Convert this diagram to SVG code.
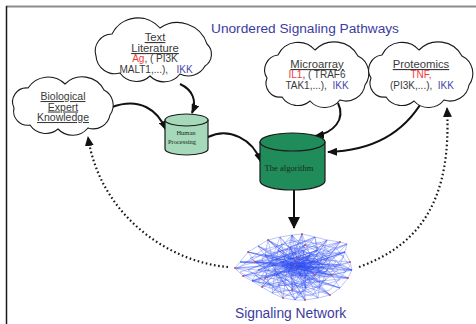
<svg xmlns="http://www.w3.org/2000/svg" width="476" height="324" viewBox="0 0 476 324">
  <defs>
    <style>
      .cloud { fill: #ffffff; stroke: #1a1a1a; stroke-width: 1.1; }
      .head { font-family: "Liberation Sans", Arial, sans-serif; font-size: 11.3px; fill: #3a3a3a; text-anchor: middle; text-decoration: underline; }
      .item { font-family: "Liberation Sans", Arial, sans-serif; font-size: 10px; fill: #3a3a3a; text-anchor: middle; }
      .red { fill: #f03a3a; }
      .blue { fill: #4646a8; }
      .title { font-family: "Liberation Sans", Arial, sans-serif; font-size: 13.7px; fill: #3c3ca0; }
      .cyl-label { font-family: "Liberation Serif", "Times New Roman", serif; fill: #1c2a22; text-anchor: middle; }
      .cyl { stroke: #1a1a1a; stroke-width: 1.2; }
      .flow { fill: none; stroke: #111111; stroke-width: 2; marker-end: url(#arrow); }
      .feedback { fill: none; stroke: #1a1a1a; stroke-width: 2.2; stroke-dasharray: 1.6 2.6; marker-end: url(#arrowSmall); }
      .net { fill: none; stroke: #2f4ef0; stroke-width: 0.6; stroke-opacity: 0.55; stroke-linejoin: round; }
      .node { fill: #e04848; }
    </style>
    <marker id="arrow" viewBox="0 0 10 8" refX="9" refY="4" markerWidth="10" markerHeight="8" markerUnits="userSpaceOnUse" orient="auto">
      <path d="M0,0 L10,4 L0,8 z" fill="#111111"/>
    </marker>
    <marker id="arrowBig" viewBox="0 0 12 12" refX="11" refY="6" markerWidth="12" markerHeight="12" markerUnits="userSpaceOnUse" orient="auto">
      <path d="M0,0 L12,6 L0,12 z" fill="#111111"/>
    </marker>
    <marker id="arrowSmall" viewBox="0 0 10 9" refX="9" refY="4.5" markerWidth="10" markerHeight="9" markerUnits="userSpaceOnUse" orient="auto">
      <path d="M0,0 L10,4.5 L0,9 z" fill="#111111"/>
    </marker>
  </defs>

  <rect x="0" y="0" width="476" height="324" fill="#ffffff"/>

  <!-- frame -->
  <line x1="6" y1="6.5" x2="476" y2="6.5" stroke="#8c8c8c" stroke-width="2"/>
  <line x1="6.5" y1="6" x2="6.5" y2="324" stroke="#1a1a1a" stroke-width="1.5"/>

  <text class="title" x="211" y="33">Unordered Signaling Pathways</text>

  <!-- connectors -->
  <g id="connectors">
    <path class="flow" d="M180,84 C193,90 197,101 192,113"/>
    <path class="flow" d="M112,107 C140,97 158,110 166,130"/>
    <path class="flow" d="M208,137 C229,127 253,139 261,162"/>
    <path class="flow" d="M338,103 C346,120 333,133 315,136"/>
    <path class="flow" d="M423,100 C400,140 362,151 328,152"/>
    <path d="M294,190 L294,228" fill="none" stroke="#111111" stroke-width="2" marker-end="url(#arrowBig)"/>
    <path class="feedback" d="M228,267 C168,262 100,215 88,137"/>
    <path class="feedback" d="M359,267 C420,245 452,200 447,108"/>
  </g>

  <!-- source clouds -->
  <g id="text-literature">
    <path class="cloud" d="M96,56 A17,17 0 0 1 112,34 A29,29 0 0 1 160,28 A31,31 0 0 1 207,44 A14,14 0 0 1 205,66 A19,19 0 0 1 180,74 A20,20 0 0 1 150,76 A20,20 0 0 1 120,73 A19,19 0 0 1 96,56 z"/>
    <text class="head" x="155" y="41">Text</text>
    <text class="head" x="155" y="52">Literature</text>
    <text class="item" x="155" y="62" xml:space="preserve"><tspan class="red">Ag</tspan>, ( PI3K</text>
    <text class="item" x="156" y="73" xml:space="preserve">MALT1,...),   <tspan class="blue">IKK</tspan></text>
  </g>

  <g id="expert-knowledge">
    <path class="cloud" d="M14,108 A14,14 0 0 1 28,88 A24,24 0 0 1 65,84 A24.5,24.5 0 0 1 104,90 A17,17 0 0 1 110,115 A17,17 0 0 1 88,128 A20,20 0 0 1 58,129 A19,19 0 0 1 30,125 A14,14 0 0 1 14,108 z"/>
    <text class="head" x="63" y="100" style="font-size:10.5px">Biological</text>
    <text class="head" x="63" y="110.5" style="font-size:10.5px">Expert</text>
    <text class="head" x="63" y="121" style="font-size:10.5px">Knowledge</text>
  </g>

  <g id="microarray">
    <path class="cloud" d="M267,78 A15,15 0 0 1 278,55 A22.4,22.4 0 0 1 315,50 A27,27 0 0 1 358,56 A19.4,19.4 0 0 1 365,85 A19,19 0 0 1 340,100 A19.6,19.6 0 0 1 310,101 A18.8,18.8 0 0 1 282,97 A14,14 0 0 1 267,78 z"/>
    <text class="head" x="317" y="68">Microarray</text>
    <text class="item" x="317" y="78" xml:space="preserve"><tspan class="red">IL1</tspan>, ( TRAF6</text>
    <text class="item" x="317" y="89" xml:space="preserve">TAK1,...),  <tspan class="blue">IKK</tspan></text>
  </g>

  <g id="proteomics">
    <path class="cloud" transform="translate(104,0)" d="M267,78 A15,15 0 0 1 278,55 A22.4,22.4 0 0 1 315,50 A27,27 0 0 1 358,56 A19.4,19.4 0 0 1 365,85 A19,19 0 0 1 340,100 A19.6,19.6 0 0 1 310,101 A18.8,18.8 0 0 1 282,97 A14,14 0 0 1 267,78 z"/>
    <text class="head" x="421" y="68">Proteomics</text>
    <text class="item red" x="421" y="78">TNF,</text>
    <text class="item" x="422" y="89" xml:space="preserve">(PI3K,...),  <tspan class="blue">IKK</tspan></text>
  </g>

  <!-- processing stores -->
  <g id="human-processing">
    <path class="cyl" fill="#a6d9b9" d="M165,120 L165,149 A21.5,6 0 0 0 208,149 L208,120 z"/>
    <ellipse class="cyl" fill="#a6d9b9" cx="186.5" cy="120" rx="21.5" ry="6"/>
    <text class="cyl-label" x="186" y="135" font-size="6.5">Human</text>
    <text class="cyl-label" x="182" y="144" font-size="6.5">Processing</text>
  </g>

  <g id="the-algorithm">
    <path class="cyl" fill="#1f8c59" d="M260,142 L260,181 A32.5,9 0 0 0 325,181 L325,142 z"/>
    <ellipse class="cyl" fill="#1f8c59" cx="292.5" cy="142" rx="32.5" ry="9"/>
    <text class="cyl-label" x="289" y="171" font-size="8.6">The algorithm</text>
  </g>

  <!-- resulting network -->
  <g id="signaling-network">
    <polygon class="net" points="235,268 240,262 248,252 258,246 268,240 280,237 292,235 302,234 315,237 327,240 340,242 347,244 345,252 350,262 352,270 348,278 340,288 330,295 318,298 305,300 295,300 283,298 272,293 262,287 252,281 243,276"/>
    <polyline class="net" points="235,268 255,262 248,252 265,255 268,240 278,250 292,235 290,247 315,237 318,250 340,242 330,255 345,252 340,265 352,270 332,275 340,288 320,283 318,298 306,288 295,300 292,290 272,293 278,286 252,281 258,270 235,268"/>
    <polyline class="net" points="240,262 272,265 258,246 285,260 280,237 298,258 302,234 310,255 327,240 312,262 347,244 324,268 350,262 315,275 348,278 300,275 330,295 288,272 305,300 276,275 283,298 265,278 262,287 282,266 243,276 295,265"/>
    <polyline class="net" points="235,268 295,265 347,244 282,266 348,278 290,247 283,298 324,268 268,240 315,275 243,276 318,250 272,293 278,250 330,295 258,270 327,240 292,290 292,235 332,275 248,252 305,268 305,300 265,255 350,262"/>
    <polyline class="net" points="258,246 300,275 340,242 276,275 352,270 305,245 262,287 340,265 240,262 298,258 318,298 255,262 315,237 320,283 280,237 265,278 345,252 288,272 302,234 306,288 252,281 330,255 295,300 272,265 340,288"/>
    <polyline class="net" points="285,260 305,268 278,250 315,275 290,247 300,275 305,245 288,272 318,250 276,275 312,262 282,266 310,255 278,286 298,258 306,288 295,265 292,290 324,268 272,265 332,275 258,270 310,255 265,278 330,255 255,262 340,265 265,255"/>
    <polyline class="net" points="295,265 312,262 288,272 305,268 282,266 300,275 285,260 315,275 298,258 276,275 310,255 292,290 290,247 306,288 278,250 320,283 265,255 332,275 255,262 324,268 272,265 318,250 258,270 305,245 265,278"/>
    <polyline class="net" points="248,252 285,260 315,237 288,272 340,288 282,266 292,235 300,275 252,281 310,255 345,252 276,275 268,240 305,268 352,270 255,262 340,242 306,288 235,268 312,262 295,300 265,255 348,278 278,286 302,234"/>
    <polyline class="net" points="300,262 318,270 296,270 322,260 304,278 314,258 290,266 326,274 302,256 310,280 284,268 320,264 298,272 330,266 306,260"/>
    <polyline class="net" points="236,270 262,250 300,240 336,248 350,266 330,290 296,298 262,285 240,272 270,262 300,250 330,262 320,288 290,282 268,270 286,250 316,246 338,270 310,292 280,290 256,276 276,258 306,252 326,280 300,286 274,282"/>
    <polyline class="net" points="244,264 290,240 344,256 312,296 258,282 282,244 336,262 300,294 250,258 320,242 346,272 270,288 262,258 310,240 340,280 286,296 248,270 296,252 328,270 304,284 272,270 314,266 290,278 302,262 280,262 322,276"/>
    <polyline class="net" points="295,265 240,262 310,262 292,235 305,268 345,252 300,275 305,300 288,272 252,281 312,262 352,270 298,258 268,240 306,270 330,295 290,266 258,246 318,270 327,240 296,270 262,287"/>
    <polyline class="net" points="288,258 318,262 292,276 312,252 300,268 326,266 284,272 308,280 296,256 322,272 280,262 314,270 302,250 294,282 316,258 290,268 328,258 306,274"/>
    <g class="node">
      <circle cx="235" cy="268" r="0.9"/><circle cx="248" cy="252" r="0.9"/><circle cx="268" cy="240" r="0.9"/>
      <circle cx="302" cy="234" r="0.9"/><circle cx="340" cy="242" r="0.9"/><circle cx="350" cy="262" r="0.9"/>
      <circle cx="348" cy="278" r="0.9"/><circle cx="330" cy="295" r="0.9"/><circle cx="305" cy="300" r="0.9"/>
      <circle cx="283" cy="298" r="0.9"/><circle cx="262" cy="287" r="0.9"/><circle cx="243" cy="276" r="0.9"/>
      <circle cx="255" cy="262" r="0.9"/><circle cx="305" cy="245" r="0.9"/><circle cx="332" cy="275" r="0.9"/>
      <circle cx="292" cy="290" r="0.9"/><circle cx="265" cy="278" r="0.9"/><circle cx="298" cy="258" r="0.9"/>
      <circle cx="315" cy="275" r="0.9"/><circle cx="295" cy="265" r="0.9"/>
    </g>
  </g>

  <text class="title" x="235" y="318" style="font-size:13.8px">Signaling Network</text>
</svg>
